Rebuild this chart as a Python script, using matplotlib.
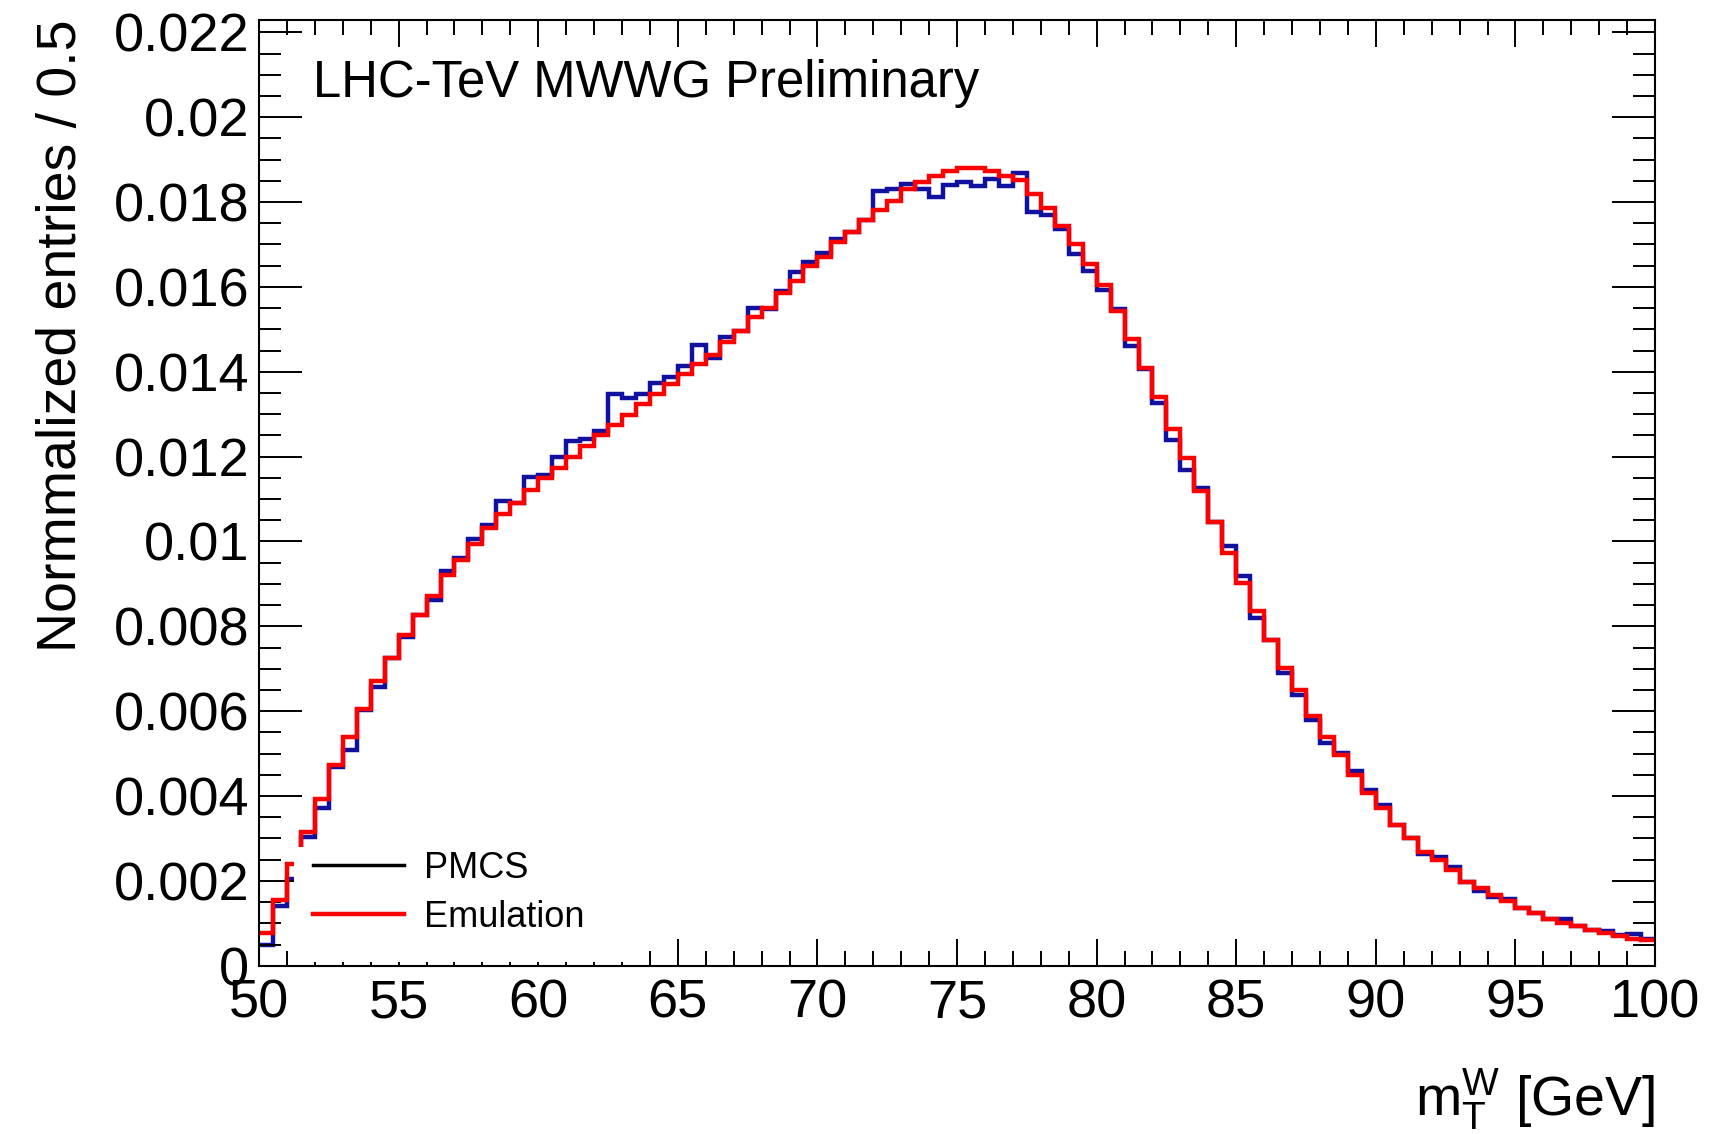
import numpy as np
import matplotlib
matplotlib.use("Agg")
import matplotlib.pyplot as plt
from matplotlib.lines import Line2D
from matplotlib.patches import Rectangle
from matplotlib.ticker import MultipleLocator, FuncFormatter

plt.rcParams['font.family'] = ['Liberation Sans', 'DejaVu Sans']
plt.rcParams['mathtext.fontset'] = 'custom'
plt.rcParams['mathtext.rm'] = 'Liberation Sans'
plt.rcParams['mathtext.it'] = 'Liberation Sans'

# binning of the m_T histogram
x_min, x_max, bin_width = 50.0, 100.0, 0.5

# normalized entries per 0.5 GeV bin (x1e-3)
pmcs = [0.50, 1.40, 2.05, 3.04, 3.71, 4.69, 5.08, 6.02, 6.58, 7.25,
        7.74, 8.27, 8.61, 9.30, 9.61, 10.05, 10.38, 10.95, 10.91, 11.53,
        11.56, 12.00, 12.37, 12.42, 12.60, 13.47, 13.39, 13.47, 13.73, 13.88,
        14.14, 14.63, 14.33, 14.81, 14.96, 15.51, 15.47, 15.90, 16.34, 16.59,
        16.81, 17.14, 17.30, 17.58, 18.25, 18.31, 18.43, 18.31, 18.13, 18.40,
        18.48, 18.37, 18.55, 18.37, 18.68, 17.77, 17.69, 17.36, 16.77, 16.38,
        15.93, 15.49, 14.61, 14.06, 13.27, 12.39, 11.68, 11.26, 10.45, 9.89,
        9.18, 8.19, 7.68, 6.91, 6.38, 5.78, 5.24, 5.02, 4.60, 4.14,
        3.79, 3.31, 3.00, 2.63, 2.57, 2.33, 1.98, 1.76, 1.61, 1.58,
        1.37, 1.24, 1.09, 1.11, 0.93, 0.85, 0.82, 0.72, 0.74, 0.62]

emulation = [0.78, 1.55, 2.40, 3.16, 3.94, 4.73, 5.40, 6.05, 6.72, 7.25,
             7.79, 8.27, 8.72, 9.22, 9.57, 9.93, 10.32, 10.64, 10.91, 11.21,
             11.50, 11.74, 12.00, 12.26, 12.50, 12.74, 12.97, 13.23, 13.47, 13.72,
             13.94, 14.18, 14.39, 14.70, 14.96, 15.30, 15.51, 15.85, 16.14, 16.50,
             16.70, 17.06, 17.30, 17.58, 17.82, 18.03, 18.31, 18.48, 18.62, 18.73,
             18.80, 18.80, 18.73, 18.62, 18.53, 18.19, 17.85, 17.44, 17.01, 16.54,
             16.04, 15.44, 14.78, 14.10, 13.40, 12.66, 11.97, 11.19, 10.45, 9.73,
             9.02, 8.35, 7.68, 7.01, 6.50, 5.89, 5.40, 4.97, 4.50, 4.06,
             3.71, 3.31, 3.00, 2.69, 2.49, 2.25, 1.98, 1.82, 1.66, 1.53,
             1.37, 1.24, 1.11, 1.01, 0.93, 0.85, 0.77, 0.69, 0.64, 0.60]

labels = ['PMCS', 'Emulation']

edges = np.arange(x_min, x_max + bin_width / 2, bin_width)
pmcs = np.array(pmcs) * 1e-3
emulation = np.array(emulation) * 1e-3

fig = plt.figure(figsize=(17.11, 11.34), dpi=100)
ax = fig.add_axes([0.1514, 0.1484, 0.8159, 0.8343])

ax.stairs(pmcs, edges, baseline=None, color='#1111a0', linewidth=3.2, zorder=1.5)
ax.stairs(emulation, edges, baseline=None, color='#ff0000', linewidth=3.2, zorder=1.6)

ax.set_xlim(x_min, x_max)
ax.set_ylim(0, 0.0223)

# ROOT style ticks
ax.xaxis.set_major_locator(MultipleLocator(5))
ax.xaxis.set_minor_locator(MultipleLocator(1))
ax.yaxis.set_major_locator(MultipleLocator(0.002))
ax.yaxis.set_minor_locator(MultipleLocator(0.0005))
ax.yaxis.set_major_formatter(FuncFormatter(lambda v, p: '%g' % round(v, 6)))
ax.tick_params(which='both', direction='in', top=True, right=True, width=1.4,
               labelsize=39)
ax.tick_params(axis='x', which='major', length=19.5, pad=9)
ax.tick_params(axis='x', which='minor', length=10.8)
ax.tick_params(axis='y', which='major', length=31, pad=7)
ax.tick_params(axis='y', which='minor', length=16)
for s in ax.spines.values():
    s.set_linewidth(1.5)

ylab = ax.set_ylabel('Normmalized entries / 0.5', fontsize=40, loc='top')
ylab.set_va('center')
ax.yaxis.set_label_coords(-0.141, 1.0)

xlab = ax.set_xlabel(r'$\mathregular{m_{T}^{W}}$ [GeV]', fontsize=40, loc='right')
xlab.set_va('center')
ax.xaxis.set_label_coords(1.0, -0.142)

ax.text(0.0387, 0.932, 'LHC-TeV MWWG Preliminary', transform=ax.transAxes,
        fontsize=36.6, ha='left', va='center')

# white legend pad hides the histogram lines behind it
ax.add_patch(Rectangle((0.025, 0.004), 0.24, 0.1216, transform=ax.transAxes,
                       facecolor='white', edgecolor='none', zorder=2.2))

handles = [Line2D([], [], color='black', linewidth=2.5),
           Line2D([], [], color='#ff0000', linewidth=3.2)]
ax.legend(handles, labels, loc='center left', bbox_to_anchor=(0.039, 0.077),
          frameon=False, fontsize=26, handlelength=2.5, handletextpad=0.55,
          labelspacing=0.38, borderpad=0, borderaxespad=0)

fig.savefig('out.png', dpi=100)
